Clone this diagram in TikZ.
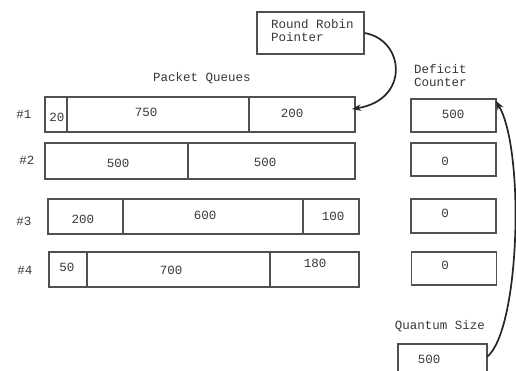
\documentclass[tikz,border=0pt]{standalone}
\usepackage{fontspec}
\setmonofont{Liberation Mono}
\usetikzlibrary{arrows.meta}
\definecolor{linec}{HTML}{505050}
\definecolor{textc}{HTML}{383838}
\tikzset{
  cell/.style={draw=linec, line width=1.2pt, inner sep=0pt},
  txt/.style={font=\ttfamily\fontsize{12.5}{13}\selectfont, text=textc, inner sep=0pt, align=left},
  link/.style={draw=black!85, line width=1.7pt, -{Stealth[length=9pt,width=6.5pt]}}
}
\begin{document}
\begin{tikzpicture}[x=1pt,y=-1pt]
\useasboundingbox (0,0) rectangle (516,371);
% queue 1
\node[cell, minimum width=22pt, minimum height=35pt] (q1a) at (56,114.5) {};
\node[cell, minimum width=182pt, minimum height=35pt] (q1b) at (158,114.5) {};
\node[cell, minimum width=106pt, minimum height=35pt] (q1c) at (302,114.5) {};
% queue 2
\node[cell, minimum width=143pt, minimum height=36pt] (q2a) at (116.5,161) {};
\node[cell, minimum width=167pt, minimum height=36pt] (q2b) at (271.5,161) {};
% queue 3
\node[cell, minimum width=75pt, minimum height=35pt] (q3a) at (85.5,216.5) {};
\node[cell, minimum width=180pt, minimum height=35pt] (q3b) at (213,216.5) {};
\node[cell, minimum width=56pt, minimum height=35pt] (q3c) at (331,216.5) {};
% queue 4
\node[cell, minimum width=38pt, minimum height=35pt] (q4a) at (68,269.5) {};
\node[cell, minimum width=183pt, minimum height=35pt] (q4b) at (178.5,269.5) {};
\node[cell, minimum width=89pt, minimum height=35pt] (q4c) at (314.5,269.5) {};
% cell texts
\node[txt] (t1a) at (57,117) {20};
\node[txt] (t1b) at (146,112) {750};
\node[txt] (t1c) at (292,113) {200};
\node[txt] (t2a) at (118,163) {500};
\node[txt] (t2b) at (265,162) {500};
\node[txt] (t3a) at (83,219) {200};
\node[txt] (t3b) at (205,215) {600};
\node[txt] (t3c) at (333,216) {100};
\node[txt] (t4a) at (67,267) {50};
\node[txt] (t4b) at (171,270) {700};
\node[txt] (t4c) at (315,263) {180};
% row labels
\node[txt] (l1) at (24,114) {\#1};
\node[txt] (l2) at (27,160) {\#2};
\node[txt] (l3) at (24,221) {\#3};
\node[txt] (l4) at (25,270) {\#4};
\node[txt] (pq) at (202,78) {Packet Queues};
% deficit counters
\node[txt, anchor=west] (dc) at (414,75.5) {Deficit\\Counter};
\node[cell, minimum width=85pt, minimum height=33pt] (d1) at (453.5,115.5) {};
\node[cell, minimum width=85pt, minimum height=33pt] (d2) at (453.5,159.5) {};
\node[cell, minimum width=85pt, minimum height=34pt] (d3) at (453.5,216) {};
\node[cell, minimum width=85pt, minimum height=33pt] (d4) at (454,268.5) {};
\node[txt] (dt1) at (453,114) {500};
\node[txt] (dt2) at (445,161) {0};
\node[txt] (dt3) at (445,213) {0};
\node[txt] (dt4) at (445,265) {0};
% quantum
\node[txt] (qs) at (440,326) {Quantum Size};
\node[cell, minimum width=89pt, minimum height=30pt] (qb) at (442.5,359) {};
\node[txt] (qt) at (429,359) {500};
% round robin pointer
\node[cell, minimum width=107pt, minimum height=42pt] (rr) at (310.5,33) {};
\node[txt, anchor=north west] (rrt) at (271,19) {Round Robin\\Pointer};
% arrows
\coordinate (rrend) at (352,109);
\coordinate (qstart) at (487,357);
\coordinate (dend) at (496,101);
\draw[link] (rr.east) .. controls (405,40) and (410,100) .. (rrend);
\draw[link] (qstart) .. controls (520,330) and (525,150) .. (dend);
\end{tikzpicture}
\end{document}
